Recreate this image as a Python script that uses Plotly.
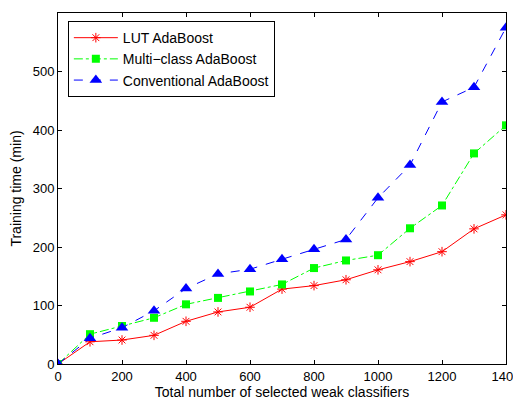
import plotly.graph_objects as go

x_vals = [0, 100, 200, 300, 400, 500, 600, 700, 800, 900, 1000, 1100, 1200, 1300, 1400]
lut = [0, 38, 41, 49, 73, 89, 97, 128, 134, 144, 161, 175, 192, 231, 255]
multi = [0, 51, 65, 79, 102, 113, 124, 136, 164, 177, 186, 232, 271, 360, 408]
conv = [0, 44, 62, 91, 129, 154, 162, 179, 196, 213, 284, 340, 448, 473, 575]

fig = go.Figure()
fig.add_trace(go.Scatter(x=x_vals, y=lut, name="LUT AdaBoost", mode="lines+markers",
                         line=dict(color="#ff0000", width=1, dash="solid"),
                         marker=dict(symbol="asterisk-open", size=8, color="#ff0000",
                                     line=dict(color="#ff0000", width=1))))
fig.add_trace(go.Scatter(x=x_vals, y=multi, name="Multi\u2212class AdaBoost", mode="lines+markers",
                         line=dict(color="#00ff00", width=1, dash="dashdot"),
                         marker=dict(symbol="square", size=8, color="#00ff00")))
fig.add_trace(go.Scatter(x=x_vals, y=conv, name="Conventional AdaBoost", mode="lines+markers",
                         line=dict(color="#0000ff", width=1, dash="dash"),
                         marker=dict(symbol="triangle-up", size=11, color="#0000ff")))

axis_common = dict(showline=True, linecolor="black", linewidth=1, mirror="ticks",
                   ticks="inside", ticklen=4, tickcolor="black", showgrid=False,
                   zeroline=False, automargin=False, tickfont=dict(size=13, color="black"))
fig.update_xaxes(range=[0, 1400], tickvals=[0, 200, 400, 600, 800, 1000, 1200, 1400],
                 title=dict(text="Total number of selected weak classifiers", font=dict(size=14, color="black"), standoff=0),
                 **axis_common)
fig.update_yaxes(range=[0, 600], tickvals=[0, 100, 200, 300, 400, 500, 600],
                 title=dict(text="Training time (min)", font=dict(size=14, color="black"), standoff=10),
                 **axis_common)

fig.update_layout(
    width=521, height=402,
    margin=dict(l=50, r=23, t=5, b=46),
    paper_bgcolor="white", plot_bgcolor="white",
    font=dict(family="Liberation Sans, Arial, sans-serif", size=14, color="black"),
    showlegend=True,
    legend=dict(x=0.022, y=0.977, xanchor="left", yanchor="top",
                bgcolor="white", bordercolor="black", borderwidth=1,
                font=dict(size=14, color="black"), tracegroupgap=0,
                itemwidth=44),
)

fig.write_html("out.html")
